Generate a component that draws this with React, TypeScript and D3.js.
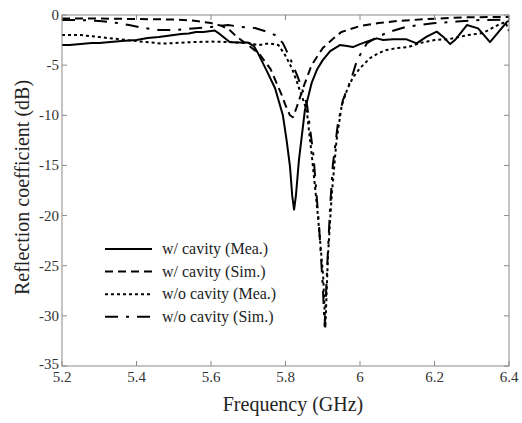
import React from "react";
import * as d3 from "d3";

const xTicks = [5.2, 5.4, 5.6, 5.8, 6, 6.2, 6.4];
const yTicks = [0, -5, -10, -15, -20, -25, -30, -35];

const withCavityMea: [number, number][] = [
  [5.2, -3.0], [5.22, -3.0], [5.25, -2.9], [5.28, -2.8], [5.3, -2.8], [5.33, -2.7],
  [5.36, -2.6], [5.4, -2.5], [5.43, -2.3], [5.46, -2.2], [5.48, -2.1], [5.5, -2.0],
  [5.52, -1.9], [5.54, -1.85], [5.56, -1.7], [5.58, -1.7], [5.6, -1.6], [5.61, -1.55],
  [5.62, -1.8], [5.64, -2.4], [5.65, -2.7], [5.67, -2.75], [5.7, -2.75], [5.715, -3.1],
  [5.726, -3.8], [5.75, -5.6], [5.772, -7.3], [5.793, -10.0], [5.803, -12.5],
  [5.812, -15.1], [5.818, -18.0], [5.823, -19.4], [5.828, -18.0], [5.836, -14.5],
  [5.852, -9.5], [5.87, -6.8], [5.885, -5.4], [5.9, -4.5], [5.92, -3.6], [5.946, -3.0],
  [5.965, -3.1], [5.981, -3.2], [6.0, -2.9], [6.018, -2.66], [6.045, -2.33], [6.062, -2.5],
  [6.089, -2.43], [6.125, -2.43], [6.152, -2.83], [6.179, -2.16], [6.206, -1.66],
  [6.223, -2.16], [6.242, -2.9], [6.255, -2.5], [6.287, -1.0], [6.317, -1.33],
  [6.349, -2.7], [6.376, -1.5], [6.395, -0.66], [6.4, -0.6],
];

const withCavitySim: [number, number][] = [
  [5.2, -0.35], [5.3, -0.35], [5.4, -0.4], [5.5, -0.45], [5.55, -0.55], [5.6, -0.8],
  [5.63, -1.1], [5.65, -1.5], [5.67, -2.2], [5.7, -3.0], [5.73, -3.9], [5.76, -5.4],
  [5.79, -8.0], [5.8, -9.0], [5.812, -10.0], [5.82, -10.2], [5.83, -9.2], [5.85, -7.0],
  [5.87, -5.0], [5.9, -3.3], [5.93, -2.3], [5.95, -1.7], [6.0, -1.1], [6.05, -0.8],
  [6.1, -0.6], [6.17, -0.43], [6.25, -0.27], [6.3, -0.22], [6.4, -0.2],
];

const withoutCavityMea: [number, number][] = [
  [5.2, -2.0], [5.25, -2.0], [5.3, -2.2], [5.35, -2.4], [5.4, -2.6], [5.44, -2.75],
  [5.47, -2.85], [5.5, -2.8], [5.55, -2.7], [5.6, -2.65], [5.65, -2.7], [5.7, -2.8],
  [5.727, -3.0], [5.754, -2.83], [5.781, -3.0], [5.799, -4.0], [5.817, -5.3], [5.83, -6.6],
  [5.843, -8.0], [5.857, -9.5], [5.872, -14.5], [5.887, -20], [5.901, -26], [5.907, -31.2],
  [5.914, -24], [5.924, -18], [5.937, -12.5], [5.951, -9.0], [5.965, -7.5], [5.98, -6.3],
  [6.0, -5.3], [6.027, -4.3], [6.05, -3.8], [6.07, -3.5], [6.1, -3.3], [6.13, -3.2],
  [6.16, -2.8], [6.2, -2.5], [6.24, -2.4], [6.29, -2.0], [6.33, -1.8], [6.37, -1.0],
  [6.39, -0.7], [6.4, -1.6],
];

const withoutCavitySim: [number, number][] = [
  [5.2, -0.5], [5.25, -0.5], [5.3, -0.6], [5.35, -0.8], [5.38, -1.0], [5.42, -1.3],
  [5.46, -1.5], [5.5, -1.5], [5.55, -1.35], [5.6, -1.2], [5.646, -1.0], [5.683, -1.2],
  [5.718, -1.3], [5.753, -1.7], [5.772, -2.0], [5.793, -2.8], [5.812, -4.3], [5.831, -6.0],
  [5.844, -7.3], [5.858, -9.0], [5.875, -14], [5.89, -21], [5.9, -27], [5.905, -31],
  [5.912, -25], [5.92, -19], [5.927, -15], [5.94, -11], [5.954, -8.5], [5.978, -6.2],
  [5.992, -4.5], [6.019, -2.8], [6.046, -2.2], [6.08, -1.66], [6.126, -1.16],
  [6.196, -0.83], [6.26, -0.66], [6.322, -0.5], [6.4, -0.45],
];

const seriesNames = ["w/ cavity (Mea.)", "w/ cavity (Sim.)", "w/o cavity (Mea.)", "w/o cavity (Sim.)"];
const seriesData = [withCavityMea, withCavitySim, withoutCavityMea, withoutCavitySim];
const seriesDash = ["none", "8,5", "3,3", "13,8,3,8"];

export default function App() {
  const W = 522, H = 423;
  const L = 62, R = 509, T = 15, B = 366;
  const x = d3.scaleLinear().domain([5.2, 6.4]).range([L, R]);
  const y = d3.scaleLinear().domain([-35, 0]).range([B, T]);
  const line = d3.line<[number, number]>().x(d => x(d[0])).y(d => y(d[1]));
  const axisColor = "#8a8a8a";
  const font = "\"Liberation Serif\", Tinos, \"Times New Roman\", Times, \"DejaVu Serif\", serif";
  const tk = 5;
  const ts = { fontFamily: font };
  return (
    <svg width={W} height={H} style={{ position: "absolute", left: 0, top: 0, background: "#fff", fontFamily: font }}>
      <defs>
        <clipPath id="plotclip"><rect x={L} y={T} width={R - L} height={B - T} /></clipPath>
      </defs>
      <rect x={0} y={0} width={W} height={H} fill="#fff" />
      <g clipPath="url(#plotclip)">
        {seriesData.map((d, i) => (
          <path key={i} d={line(d) || ""} fill="none" stroke="#000" strokeWidth={2}
            strokeDasharray={seriesDash[i]} strokeLinejoin="round" />
        ))}
      </g>
      <rect x={L} y={T} width={R - L} height={B - T} fill="none" stroke={axisColor} strokeWidth={1} />
      {xTicks.map(t => (
        <g key={"x" + t}>
          <line x1={x(t)} x2={x(t)} y1={B} y2={B - tk} stroke={axisColor} />
          <line x1={x(t)} x2={x(t)} y1={T} y2={T + tk} stroke={axisColor} />
          <text x={x(t)} y={382} textAnchor="middle" fontSize={15} fill="#333" style={ts}>{String(t)}</text>
        </g>
      ))}
      {yTicks.map(t => (
        <g key={"y" + t}>
          <line x1={L} x2={L + tk} y1={y(t)} y2={y(t)} stroke={axisColor} />
          <line x1={R} x2={R - tk} y1={y(t)} y2={y(t)} stroke={axisColor} />
          <text x={59} y={y(t) + (t === -35 ? 3 : 5)} textAnchor="end" fontSize={15} fill="#333" style={ts}>{String(t)}</text>
        </g>
      ))}
      <text x={293} y={411} textAnchor="middle" fontSize={20} fill="#222" style={ts}>Frequency (GHz)</text>
      <text transform={`translate(29, ${(T + B) / 2 - 3}) rotate(-90)`} textAnchor="middle" fontSize={20} fill="#222" style={ts}>
        Reflection coefficient (dB)
      </text>
      {seriesNames.map((n, i) => {
        const ly = 249 + i * 22.6;
        return (
          <g key={n}>
            <line x1={105} x2={152} y1={ly} y2={ly} stroke="#000" strokeWidth={2} strokeDasharray={seriesDash[i]} />
            <text x={162} y={ly + 5} fontSize={16} fill="#222" style={ts}>{n}</text>
          </g>
        );
      })}
    </svg>
  );
}
